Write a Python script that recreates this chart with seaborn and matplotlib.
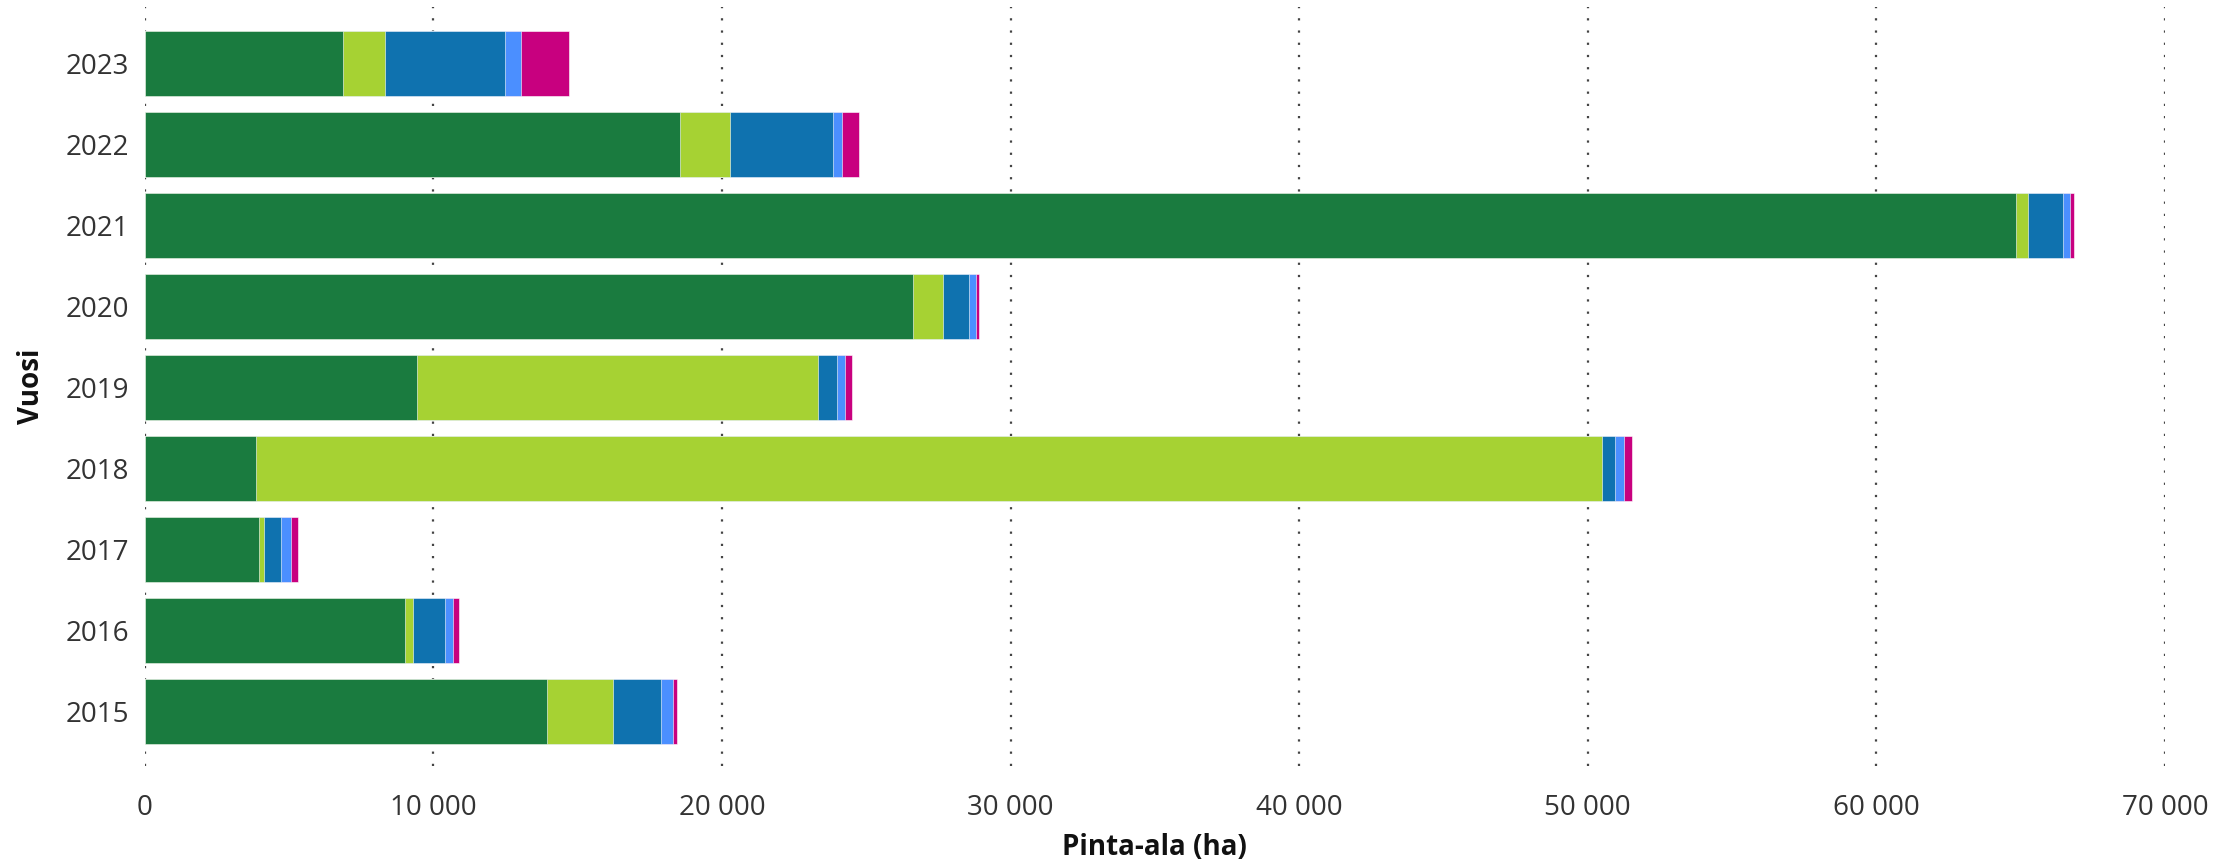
import numpy as np
import pandas as pd
import matplotlib
matplotlib.use("Agg")
import matplotlib.pyplot as plt
from matplotlib.ticker import FuncFormatter, MultipleLocator
import seaborn as sns

# years, top to bottom
years = ["2023", "2022", "2021", "2020", "2019", "2018", "2017", "2016", "2015"]

# hectares per segment, same order as years
dark_green = [6860, 18550, 64840, 26610, 9450, 3860, 3960, 9020, 13930]
light_green = [1455, 1730, 430, 1050, 13890, 46640, 185, 265, 2310]
blue = [4160, 3560, 1210, 890, 630, 460, 570, 1110, 1640]
light_blue = [565, 320, 230, 250, 295, 300, 370, 300, 415]
magenta = [1665, 600, 140, 115, 240, 280, 220, 185, 160]

segments = [dark_green, light_green, blue, light_blue, magenta]
colors = ["#1A7B3F", "#A6D233", "#0F72AF", "#4B8FFF", "#C8007F"]

df = pd.DataFrame({"Vuosi": years})
cum = np.cumsum(np.array(segments), axis=0)

sns.set_style("white")
plt.rcParams["font.family"] = ["Open Sans", "DejaVu Sans"]

fig = plt.figure(figsize=(22.23, 8.68), dpi=100)
ax = fig.add_axes([0.0651, 0.1175, 0.9088, 0.8744])

# draw cumulative totals from widest to narrowest so each segment shows
for i in range(len(segments) - 1, -1, -1):
    df["x"] = cum[i]
    sns.barplot(data=df, x="x", y="Vuosi", order=years, orient="h",
                color=colors[i], saturation=1, width=0.8, errorbar=None,
                edgecolor="white", linewidth=0.4, ax=ax, zorder=3)

ax.set_xlim(0, 70000)
ax.set_ylim(8.67, -0.7)
ax.xaxis.set_major_locator(MultipleLocator(10000))
ax.xaxis.set_major_formatter(
    FuncFormatter(lambda v, p: f"{int(v):,}".replace(",", " ")))
ax.grid(axis="x", color="#444444", linestyle=(0, (1, 4.5)), linewidth=1.6,
        zorder=0)
ax.grid(axis="y", visible=False)
for s in ax.spines.values():
    s.set_visible(False)

ax.tick_params(axis="both", length=0, labelsize=20, colors="#333333")
ax.tick_params(axis="y", pad=11)
ax.tick_params(axis="x", pad=20)

ax.set_xlabel("Pinta-ala (ha)", fontsize=20, fontweight="bold",
              color="#111111", labelpad=8)
ax.set_ylabel("Vuosi", fontsize=20, fontweight="bold", color="#111111",
              labelpad=14)

fig.savefig("out.png", dpi=100)
